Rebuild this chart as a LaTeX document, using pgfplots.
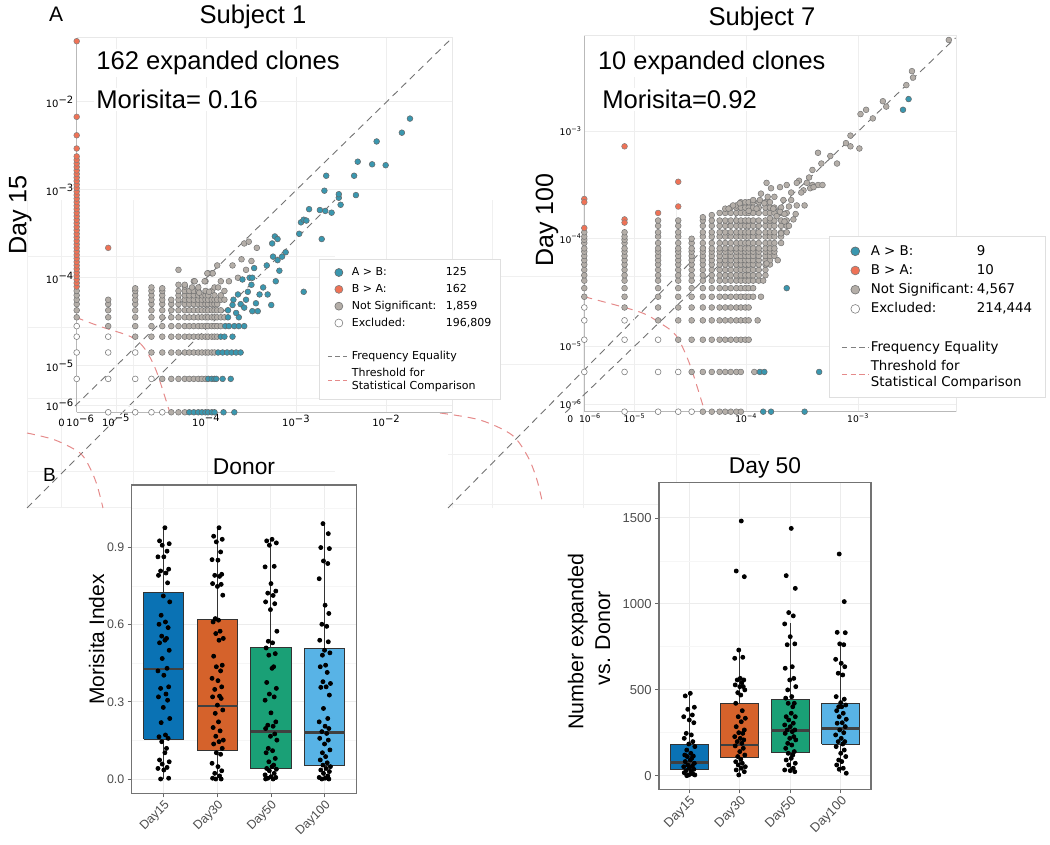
\documentclass[border=0pt]{standalone}
\usepackage{fontspec}
\setmainfont{Liberation Sans}
\newfontfamily\dejavu{DejaVu Sans}
\usepackage{pgfplots}
\pgfplotsset{compat=1.18}
\definecolor{tealc}{HTML}{3A97AF}
\definecolor{orc}{HTML}{EF7256}
\definecolor{grc}{HTML}{B4AEA8}
\definecolor{redl}{HTML}{E58A8A}
\definecolor{c15}{HTML}{0A72B4}
\definecolor{c30}{HTML}{D5622B}
\definecolor{c50}{HTML}{1AA076}
\definecolor{c100}{HTML}{58B3E6}
\newcommand{\E}[1]{10\textsuperscript{−#1}}
\pgfplotsset{
 grayp/.style={only marks, mark=*, mark size=1.45pt, mark options={fill=grc, draw=black!55, line width=0.25pt}, forget plot},
 whitep/.style={only marks, mark=*, mark size=1.45pt, mark options={fill=white, draw=black!50, line width=0.3pt}, forget plot},
 tealp/.style={only marks, mark=*, mark size=1.45pt, mark options={fill=tealc, draw=black!60, line width=0.25pt}, forget plot},
 orp/.style={only marks, mark=*, mark size=1.45pt, mark options={fill=orc, draw=black!50, line width=0.25pt}, forget plot},
 diagl/.style={gray!90!black, line width=0.45pt, dash pattern=on 3.5pt off 2.5pt, forget plot},
 redd/.style={redl, line width=0.5pt, dash pattern=on 4pt off 3pt, forget plot},
 bgl/.style={gray!12, line width=0.5pt, forget plot},
 jit/.style={only marks, mark=*, mark size=1pt, black, forget plot},
 boxs/.style={draw=black!80, line width=0.5pt, forget plot},
 meds/.style={draw=black!75, line width=1.2pt, forget plot},
 whs/.style={draw=black!80, line width=0.5pt, forget plot},
 pix/.style={at={(0pt,0pt)}, anchor=south west, scale only axis, width=525pt, height=422.5pt,
   xmin=0, xmax=1050, ymin=0, ymax=845, y dir=reverse, hide axis, clip=false},
}
\begin{document}
\begin{tikzpicture}
%================ background artefacts (pixel coordinates)
\begin{axis}[pix]
\addplot[bgl] coordinates {(27,257) (335,257)};
\addplot[bgl] coordinates {(27,328) (335,328)};
\addplot[bgl] coordinates {(27,399) (335,399)};
\addplot[bgl] coordinates {(27,472) (335,472)};
\addplot[bgl] coordinates {(27,508) (335,508)};
\addplot[bgl] coordinates {(27,200) (27,508)};
\addplot[bgl] coordinates {(61,200) (61,508)};
\addplot[bgl] coordinates {(133,200) (133,508)};
\addplot[bgl] coordinates {(207,200) (207,508)};
\addplot[diagl] coordinates {(27,508) (335,200)};
\addplot[redd, smooth] coordinates {(27,433) (55,440) (80,453) (90,468) (97,485) (103,508)};
\addplot[bgl] coordinates {(448,277) (760,277)};
\addplot[bgl] coordinates {(448,365) (760,365)};
\addplot[bgl] coordinates {(448,455) (760,455)};
\addplot[bgl] coordinates {(448,505) (760,505)};
\addplot[bgl] coordinates {(452,200) (452,508)};
\addplot[bgl] coordinates {(492,200) (492,508)};
\addplot[bgl] coordinates {(583,200) (583,508)};
\addplot[bgl] coordinates {(676,200) (676,508)};
\addplot[diagl] coordinates {(448,508) (752,200)};
\addplot[redd, smooth] coordinates {(440,413) (480,420) (512,435) (528,457) (537,480) (543,505)};
\end{axis}

%================ Subject 1
\begin{axis}[at={(38.35pt,216.35pt)}, anchor=south west, scale only axis, width=187.8pt, height=187.3pt,
 xmin=-5.44, xmax=-1.27, ymin=-5.53, ymax=-1.27, clip=false,
 axis x line*=bottom, axis y line*=left, axis line style={draw=gray!55, line width=0.5pt, -},
 xtick={-5.44,-5,-4,-3,-2}, xticklabels={0\,\E{6},\E{5},\E{4},\E{3},\E{2}},
 ytick={-5.45,-5,-4,-3,-2}, yticklabels={\E{6},\E{5},\E{4},\E{3},\E{2}},
 major tick length=0pt, grid=major, grid style={gray!13, line width=0.4pt},
 tick label style={font=\fontsize{5}{5.5}\selectfont\dejavu, inner sep=1pt},
 legend style={at={(0.645,0.409)}, anchor=north west, draw=gray!25, line width=0.5pt, fill=white,
   font=\fontsize{5.5}{6.6}\selectfont\dejavu, row sep=0.7pt, inner xsep=4pt, inner ysep=2.6pt,
   cells={anchor=west, align=left}, nodes={inner sep=0.8pt}},
 legend cell align=left]
\addlegendimage{legend image code/.code={\path[draw=none,fill=none] (0pt,-1pt) rectangle (11pt,1pt); \draw[fill=tealc,draw=black!60,line width=0.3pt] (5.5pt,0pt) circle (2pt);}}
\addlegendentry{\strut\makebox[47pt][l]{A > B:}125}
\addlegendimage{legend image code/.code={\path[draw=none,fill=none] (0pt,-1pt) rectangle (11pt,1pt); \draw[fill=orc,draw=black!50,line width=0.3pt] (5.5pt,0pt) circle (2pt);}}
\addlegendentry{\strut\makebox[47pt][l]{B > A:}162}
\addlegendimage{legend image code/.code={\path[draw=none,fill=none] (0pt,-1pt) rectangle (11pt,1pt); \draw[fill=grc,draw=black!55,line width=0.3pt] (5.5pt,0pt) circle (2pt);}}
\addlegendentry{\strut\makebox[47pt][l]{Not Significant:}1,859}
\addlegendimage{legend image code/.code={\path[draw=none,fill=none] (0pt,-1pt) rectangle (11pt,1pt); \draw[fill=white,draw=black!50,line width=0.3pt] (5.5pt,0pt) circle (2pt);}}
\addlegendentry{\strut\makebox[47pt][l]{Excluded:}196,809}
\addlegendimage{empty legend}
\addlegendentry{\strut}
\addlegendimage{legend image code/.code={\draw[gray, line width=0.4pt, dash pattern=on 2.2pt off 1.6pt] (0pt,0pt) -- (11pt,0pt);}}
\addlegendentry{\strut Frequency Equality}
\addlegendimage{legend image code/.code={\draw[redl, line width=0.4pt, dash pattern=on 2.2pt off 1.6pt] (0pt,0pt) -- (11pt,0pt);}}
\addlegendentry{\strut Threshold for\\\strut Statistical Comparison}
\addplot[gray!18, line width=0.5pt, forget plot] coordinates {(-5.44,-1.27) (-1.27,-1.27) (-1.27,-5.53)};
% excluded
\addplot[whitep] coordinates {(-5.44,-4.55) (-5.44,-4.67) (-5.44,-4.85) (-5.44,-5.15)
 (-5.09,-4.67) (-5.09,-4.85) (-5.09,-5.15) (-5.09,-5.53)
 (-4.79,-4.85) (-4.79,-5.15) (-4.79,-5.53) (-4.61,-5.15) (-4.61,-5.53) (-4.49,-5.53)};
% not significant
\addplot[grayp] coordinates {
 (-5.44,-4.45) (-5.44,-4.37) (-5.44,-4.30) (-5.44,-4.25) (-5.44,-4.20) (-5.44,-4.15)
 (-5.09,-4.55) (-5.09,-4.45) (-5.09,-4.37) (-5.09,-4.30) (-5.09,-4.25)
 (-4.79,-4.67) (-4.79,-4.55) (-4.79,-4.45) (-4.79,-4.37) (-4.79,-4.30) (-4.79,-4.25) (-4.79,-4.20) (-4.79,-4.15) (-4.79,-4.12)
 (-4.61,-4.85) (-4.61,-4.67) (-4.61,-4.55) (-4.61,-4.45) (-4.61,-4.37) (-4.61,-4.30) (-4.61,-4.25) (-4.61,-4.20) (-4.61,-4.15) (-4.61,-4.11)
 (-4.49,-5.15) (-4.49,-4.85) (-4.49,-4.67) (-4.49,-4.55) (-4.49,-4.45) (-4.49,-4.37) (-4.49,-4.30) (-4.49,-4.25) (-4.49,-4.20) (-4.49,-4.15) (-4.49,-4.12)
 (-4.39,-5.53) (-4.39,-5.15) (-4.39,-4.85) (-4.39,-4.67) (-4.39,-4.55) (-4.39,-4.45) (-4.39,-4.37) (-4.39,-4.30) (-4.39,-4.25)
 (-4.31,-5.53) (-4.31,-5.15) (-4.31,-4.85) (-4.31,-4.67) (-4.31,-4.55) (-4.31,-4.45) (-4.31,-4.37) (-4.31,-4.30) (-4.31,-4.25) (-4.31,-4.20) (-4.31,-4.15) (-4.31,-4.08) (-4.31,-3.91)
 (-4.24,-5.53) (-4.24,-5.15) (-4.24,-4.85) (-4.24,-4.67) (-4.24,-4.55) (-4.24,-4.45) (-4.24,-4.37) (-4.24,-4.30) (-4.24,-4.25) (-4.24,-4.20) (-4.24,-4.15) (-4.24,-4.10)
 (-4.19,-5.15) (-4.19,-4.85) (-4.19,-4.67) (-4.19,-4.55) (-4.19,-4.45) (-4.19,-4.37) (-4.19,-4.30) (-4.19,-4.25) (-4.19,-4.20) (-4.19,-4.15)
 (-4.14,-5.15) (-4.14,-4.85) (-4.14,-4.67) (-4.14,-4.55) (-4.14,-4.45) (-4.14,-4.37) (-4.14,-4.30) (-4.14,-4.25) (-4.14,-4.20) (-4.14,-4.15) (-4.14,-4.04)
 (-4.09,-5.15) (-4.09,-4.85) (-4.09,-4.67) (-4.09,-4.55) (-4.09,-4.45) (-4.09,-4.37) (-4.09,-4.30) (-4.09,-4.25) (-4.09,-4.20) (-4.09,-4.15) (-4.09,-4.11)
 (-4.05,-5.15) (-4.05,-4.85) (-4.05,-4.67) (-4.05,-4.55) (-4.05,-4.45) (-4.05,-4.37) (-4.05,-4.30) (-4.05,-4.25) (-4.05,-4.20)
 (-4.01,-5.15) (-4.01,-4.85) (-4.01,-4.67) (-4.01,-4.55) (-4.01,-4.45) (-4.01,-4.37) (-4.01,-4.30) (-4.01,-4.25) (-4.01,-4.20) (-4.01,-4.15) (-4.01,-4.04)
 (-3.98,-4.85) (-3.98,-4.67) (-3.98,-4.55) (-3.98,-4.45) (-3.98,-4.37) (-3.98,-4.30) (-3.98,-4.25) (-3.98,-4.20) (-3.98,-3.95)
 (-3.94,-4.85) (-3.94,-4.67) (-3.94,-4.55) (-3.94,-4.45) (-3.94,-4.37) (-3.94,-4.30) (-3.94,-4.25) (-3.94,-4.15) (-3.94,-3.95)
 (-3.91,-4.85) (-3.91,-4.67) (-3.91,-4.55) (-3.91,-4.45) (-3.91,-4.37) (-3.91,-4.30) (-3.91,-4.25) (-3.91,-4.20) (-3.91,-4.11)
 (-3.88,-4.67) (-3.88,-4.55) (-3.88,-4.45) (-3.88,-4.37) (-3.88,-4.30) (-3.88,-4.25) (-3.88,-3.86)
 (-3.84,-4.55) (-3.84,-4.45) (-3.84,-4.37) (-3.84,-4.25) (-3.84,-4.20) (-3.84,-4.04)
 (-3.80,-4.45) (-3.80,-4.25) (-3.80,-4.15)
 (-3.75,-4.04) (-3.71,-3.86) (-3.65,-4.00) (-3.61,-3.79) (-3.56,-3.91) (-3.50,-3.81) (-3.58,-3.61) (-3.53,-3.59) (-3.44,-3.66)
 (-3.87,-4.11) (-3.97,-4.16) (-3.93,-3.95) (-3.99,-3.95) (-4.02,-4.04) (-4.13,-4.04) (-4.24,-4.08) (-4.16,-4.11) (-4.08,-4.17)};
% A > B
\addplot[tealp] coordinates {
 (-4.19,-5.53) (-4.14,-5.53) (-4.09,-5.53) (-4.05,-5.53) (-4.01,-5.53) (-3.98,-5.53) (-3.94,-5.53) (-3.91,-5.53) (-3.81,-5.53) (-3.69,-5.53)
 (-3.98,-5.15) (-3.94,-5.15) (-3.91,-5.15) (-3.89,-5.15) (-3.82,-5.15) (-3.73,-5.15)
 (-3.87,-4.85) (-3.82,-4.85) (-3.77,-4.85) (-3.72,-4.85) (-3.67,-4.85) (-3.62,-4.85)
 (-3.84,-4.67) (-3.80,-4.67) (-3.71,-4.67)
 (-3.79,-4.55) (-3.75,-4.55) (-3.69,-4.55) (-3.64,-4.55) (-3.58,-4.55)
 (-3.76,-4.45) (-3.64,-4.45)
 (-3.76,-4.37) (-3.70,-4.25) (-3.62,-4.30) (-3.67,-4.40) (-3.58,-4.34)
 (-3.71,-4.31) (-3.65,-4.19) (-3.56,-4.25) (-3.54,-4.16) (-3.45,-4.29) (-3.49,-4.38) (-3.43,-4.38) (-3.50,-4.08)
 (-3.41,-4.19) (-3.32,-4.19) (-3.28,-4.31) (-3.37,-4.11) (-3.47,-3.89) (-3.52,-4.00) (-3.49,-4.00) (-3.60,-4.02)
 (-3.33,-3.86) (-3.27,-3.61) (-3.24,-3.53) (-3.21,-3.56) (-3.26,-3.76) (-3.21,-3.80) (-3.16,-3.76) (-3.12,-3.71)
 (-3.19,-3.92) (-3.23,-4.04) (-2.97,-3.50) (-2.95,-3.37) (-2.92,-3.34) (-2.89,-3.35) (-2.86,-3.22) (-2.74,-3.23)
 (-2.68,-3.24) (-2.61,-3.26) (-2.72,-3.56) (-2.51,-3.17) (-2.53,-3.09) (-2.53,-3.05) (-2.69,-3.01) (-2.67,-2.84)
 (-2.36,-2.84) (-2.32,-2.68) (-2.34,-3.06) (-2.16,-2.71) (-2.01,-2.72) (-2.11,-2.45) (-1.83,-2.35) (-1.74,-2.19) (-2.92,-4.16)};
% B > A
\addplot[orp] coordinates {
 (-5.44,-4.10) (-5.44,-4.06) (-5.44,-4.02) (-5.44,-3.98) (-5.44,-3.94) (-5.44,-3.90) (-5.44,-3.86) (-5.44,-3.82)
 (-5.44,-3.78) (-5.44,-3.74) (-5.44,-3.70) (-5.44,-3.66) (-5.44,-3.62) (-5.44,-3.58) (-5.44,-3.54) (-5.44,-3.50)
 (-5.44,-3.46) (-5.44,-3.42) (-5.44,-3.38) (-5.44,-3.34) (-5.44,-3.30) (-5.44,-3.26) (-5.44,-3.22) (-5.44,-3.18)
 (-5.44,-3.14) (-5.44,-3.10) (-5.44,-3.06) (-5.44,-3.02) (-5.44,-2.98) (-5.44,-2.94) (-5.44,-2.90) (-5.44,-2.86)
 (-5.44,-2.82) (-5.44,-2.78) (-5.44,-2.74) (-5.44,-2.70) (-5.44,-2.66) (-5.44,-2.62)
 (-5.44,-2.53) (-5.44,-2.38) (-5.44,-2.17) (-5.44,-1.31) (-5.09,-3.66)};
\addplot[diagl] coordinates {(-5.46,-5.46) (-1.27,-1.27)};
\addplot[redd, smooth] coordinates {(-5.45,-4.45) (-5.19,-4.55) (-4.84,-4.67) (-4.69,-4.80) (-4.56,-5.05) (-4.41,-5.52)};
\end{axis}

%================ Subject 7
\begin{axis}[at={(292.15pt,216.65pt)}, anchor=south west, scale only axis, width=185.85pt, height=188pt,
 xmin=-5.45, xmax=-2.126, ymin=-5.61, ymax=-2.11, clip=false,
 axis x line*=bottom, axis y line*=left, axis line style={draw=gray!55, line width=0.5pt, -},
 xtick={-5.45,-5,-4,-3}, xticklabels={0\hspace{3pt}\E{6},\E{5},\E{4},\E{3}},
 ytick={-5.54,-5,-4,-3}, yticklabels={\E{6},\E{5},\E{4},\E{3}},
 major tick length=0pt, grid=major, grid style={gray!13, line width=0.4pt},
 tick label style={font=\fontsize{4.6}{5}\selectfont\dejavu, inner sep=1pt},
 legend style={at={(0.658,0.467)}, anchor=north west, draw=gray!25, line width=0.5pt, fill=white,
   font=\fontsize{6.7}{8}\selectfont\dejavu, row sep=0.9pt, inner xsep=6pt, inner ysep=3pt,
   cells={anchor=west, align=left}, nodes={inner sep=0.8pt}},
 legend cell align=left]
\addlegendimage{legend image code/.code={\path[draw=none,fill=none] (0pt,-1pt) rectangle (13.5pt,1pt); \draw[fill=tealc,draw=black!60,line width=0.3pt] (6.75pt,0pt) circle (2.2pt);}}
\addlegendentry{\strut\makebox[53pt][l]{A > B:}9}
\addlegendimage{legend image code/.code={\path[draw=none,fill=none] (0pt,-1pt) rectangle (13.5pt,1pt); \draw[fill=orc,draw=black!50,line width=0.3pt] (6.75pt,0pt) circle (2.2pt);}}
\addlegendentry{\strut\makebox[53pt][l]{B > A:}10}
\addlegendimage{legend image code/.code={\path[draw=none,fill=none] (0pt,-1pt) rectangle (13.5pt,1pt); \draw[fill=grc,draw=black!55,line width=0.3pt] (6.75pt,0pt) circle (2.2pt);}}
\addlegendentry{\strut\makebox[53pt][l]{Not Significant:}4,567}
\addlegendimage{legend image code/.code={\path[draw=none,fill=none] (0pt,-1pt) rectangle (13.5pt,1pt); \draw[fill=white,draw=black!50,line width=0.3pt] (6.75pt,0pt) circle (2.2pt);}}
\addlegendentry{\strut\makebox[53pt][l]{Excluded:}214,444}
\addlegendimage{empty legend}
\addlegendentry{\strut}
\addlegendimage{legend image code/.code={\draw[gray, line width=0.4pt, dash pattern=on 2.6pt off 1.8pt] (0pt,0pt) -- (13.5pt,0pt);}}
\addlegendentry{\strut Frequency Equality}
\addlegendimage{legend image code/.code={\draw[redl, line width=0.4pt, dash pattern=on 2.6pt off 1.8pt] (0pt,0pt) -- (13.5pt,0pt);}}
\addlegendentry{\strut Threshold for\\\strut Statistical Comparison}
\addplot[gray!18, line width=0.5pt, forget plot] coordinates {(-5.45,-2.11) (-2.126,-2.11) (-2.126,-5.61)};
\addplot[whitep] coordinates {(-5.45,-4.64) (-5.45,-4.76) (-5.45,-4.94) (-5.45,-5.24)
 (-5.09,-4.76) (-5.09,-4.94) (-5.09,-5.24) (-5.09,-5.61)
 (-4.79,-4.94) (-4.79,-5.24) (-4.79,-5.61) (-4.61,-5.24) (-4.61,-5.61) (-4.49,-5.61)};
\addplot[grayp] coordinates {
 (-5.45,-4.54) (-5.45,-4.46) (-5.45,-4.39) (-5.45,-4.34) (-5.45,-4.29) (-5.45,-4.24) (-5.45,-4.20) (-5.45,-4.16) (-5.45,-4.12) (-5.45,-4.09) (-5.45,-4.04) (-5.45,-4.01) (-5.45,-3.98) (-5.45,-3.94)
 (-5.09,-4.64) (-5.09,-4.54) (-5.09,-4.46) (-5.09,-4.39) (-5.09,-4.34) (-5.09,-4.29) (-5.09,-4.24) (-5.09,-4.20) (-5.09,-4.16) (-5.09,-4.12) (-5.09,-4.09) (-5.09,-4.04) (-5.09,-4.01) (-5.09,-3.98) (-5.09,-3.94)
 (-4.79,-4.76) (-4.79,-4.64) (-4.79,-4.54) (-4.79,-4.46) (-4.79,-4.39) (-4.79,-4.34) (-4.79,-4.29) (-4.79,-4.24) (-4.79,-4.20) (-4.79,-4.16) (-4.79,-4.12) (-4.79,-4.09) (-4.79,-4.04) (-4.79,-3.98) (-4.79,-3.94) (-4.79,-3.88) (-4.79,-3.83)
 (-4.61,-4.94) (-4.61,-4.76) (-4.61,-4.64) (-4.61,-4.54) (-4.61,-4.46) (-4.61,-4.39) (-4.61,-4.34) (-4.61,-4.29) (-4.61,-4.24) (-4.61,-4.20) (-4.61,-4.16) (-4.61,-4.12) (-4.61,-4.09) (-4.61,-4.04) (-4.61,-3.98) (-4.61,-3.94) (-4.61,-3.88) (-4.61,-3.83)
 (-4.49,-5.24) (-4.49,-4.94) (-4.49,-4.76) (-4.49,-4.64) (-4.49,-4.54) (-4.49,-4.46) (-4.49,-4.39) (-4.49,-4.34) (-4.49,-4.29) (-4.49,-4.24) (-4.49,-4.20) (-4.49,-4.16) (-4.49,-4.12) (-4.49,-4.09) (-4.49,-4.04) (-4.49,-4.00)
 (-4.39,-5.61) (-4.39,-5.24) (-4.39,-4.94) (-4.39,-4.76) (-4.39,-4.64) (-4.39,-4.54) (-4.39,-4.46) (-4.39,-4.39) (-4.39,-4.34) (-4.39,-4.29) (-4.39,-4.24) (-4.39,-4.20) (-4.39,-4.16) (-4.39,-4.12) (-4.39,-4.09) (-4.39,-4.04) (-4.39,-3.98) (-4.39,-3.94) (-4.39,-3.88) (-4.39,-3.83) (-4.39,-3.80)
 (-4.31,-5.61) (-4.31,-5.24) (-4.31,-4.94) (-4.31,-4.76) (-4.31,-4.64) (-4.31,-4.54) (-4.31,-4.46) (-4.31,-4.39) (-4.31,-4.34) (-4.31,-4.29) (-4.31,-4.24) (-4.31,-4.20) (-4.31,-4.16) (-4.31,-4.12) (-4.31,-4.09) (-4.31,-4.04) (-4.31,-3.98) (-4.31,-3.94) (-4.31,-3.88) (-4.31,-3.83) (-4.31,-3.78)
 (-4.24,-5.61) (-4.24,-5.24) (-4.24,-4.94) (-4.24,-4.76) (-4.24,-4.64) (-4.24,-4.54) (-4.24,-4.46) (-4.24,-4.39) (-4.24,-4.34) (-4.24,-4.29) (-4.24,-4.24) (-4.24,-4.20) (-4.24,-4.16) (-4.24,-4.12) (-4.24,-4.09) (-4.24,-4.04) (-4.24,-3.98) (-4.24,-3.94) (-4.24,-3.88) (-4.24,-3.83) (-4.24,-3.76)
 (-4.19,-5.61) (-4.19,-5.24) (-4.19,-4.94) (-4.19,-4.76) (-4.19,-4.64) (-4.19,-4.54) (-4.19,-4.46) (-4.19,-4.39) (-4.19,-4.34) (-4.19,-4.29) (-4.19,-4.24) (-4.19,-4.20) (-4.19,-4.16) (-4.19,-4.12) (-4.19,-4.09) (-4.19,-4.04) (-4.19,-3.98) (-4.19,-3.94) (-4.19,-3.88) (-4.19,-3.83) (-4.19,-3.76) (-4.19,-3.72)
 (-4.14,-5.61) (-4.14,-5.24) (-4.14,-4.94) (-4.14,-4.76) (-4.14,-4.64) (-4.14,-4.54) (-4.14,-4.46) (-4.14,-4.39) (-4.14,-4.34) (-4.14,-4.29) (-4.14,-4.24) (-4.14,-4.20) (-4.14,-4.16) (-4.14,-4.12) (-4.14,-4.09) (-4.14,-4.04) (-4.14,-3.98) (-4.14,-3.94) (-4.14,-3.88) (-4.14,-3.83) (-4.14,-3.76) (-4.14,-3.71)
 (-4.09,-5.61) (-4.09,-5.24) (-4.09,-4.94) (-4.09,-4.76) (-4.09,-4.64) (-4.09,-4.54) (-4.09,-4.46) (-4.09,-4.39) (-4.09,-4.34) (-4.09,-4.29) (-4.09,-4.24) (-4.09,-4.20) (-4.09,-4.16) (-4.09,-4.12) (-4.09,-4.09) (-4.09,-4.04) (-4.09,-3.98) (-4.09,-3.94) (-4.09,-3.88) (-4.09,-3.83) (-4.09,-3.76) (-4.09,-3.71) (-4.09,-3.69)
 (-4.05,-5.61) (-4.05,-5.24) (-4.05,-4.94) (-4.05,-4.76) (-4.05,-4.64) (-4.05,-4.54) (-4.05,-4.46) (-4.05,-4.39) (-4.05,-4.34) (-4.05,-4.29) (-4.05,-4.24) (-4.05,-4.20) (-4.05,-4.16) (-4.05,-4.12) (-4.05,-4.09) (-4.05,-4.04) (-4.05,-3.98) (-4.05,-3.94) (-4.05,-3.88) (-4.05,-3.83) (-4.05,-3.76) (-4.05,-3.71) (-4.05,-3.66)
 (-4.01,-4.94) (-4.01,-4.76) (-4.01,-4.64) (-4.01,-4.54) (-4.01,-4.46) (-4.01,-4.39) (-4.01,-4.34) (-4.01,-4.29) (-4.01,-4.24) (-4.01,-4.20) (-4.01,-4.16) (-4.01,-4.12) (-4.01,-4.09) (-4.01,-4.04) (-4.01,-3.98) (-4.01,-3.94) (-4.01,-3.88) (-4.01,-3.83) (-4.01,-3.76) (-4.01,-3.71) (-4.01,-3.66)
 (-3.98,-4.94) (-3.98,-4.76) (-3.98,-4.64) (-3.98,-4.54) (-3.98,-4.46) (-3.98,-4.39) (-3.98,-4.34) (-3.98,-4.29) (-3.98,-4.24) (-3.98,-4.20) (-3.98,-4.16) (-3.98,-4.12) (-3.98,-4.09) (-3.98,-4.04) (-3.98,-3.98) (-3.98,-3.94) (-3.98,-3.88) (-3.98,-3.83) (-3.98,-3.76) (-3.98,-3.71) (-3.98,-3.66)
 (-3.94,-4.54) (-3.94,-4.46) (-3.94,-4.39) (-3.94,-4.34) (-3.94,-4.29) (-3.94,-4.24) (-3.94,-4.20) (-3.94,-4.16) (-3.94,-4.12) (-3.94,-4.09) (-3.94,-4.04) (-3.94,-3.98) (-3.94,-3.94) (-3.94,-3.88) (-3.94,-3.83) (-3.94,-3.76) (-3.94,-3.71) (-3.94,-3.66)
 (-3.89,-4.39) (-3.89,-4.34) (-3.89,-4.29) (-3.89,-4.24) (-3.89,-4.20) (-3.89,-4.16) (-3.89,-4.12) (-3.89,-4.09) (-3.89,-4.04) (-3.89,-3.98) (-3.89,-3.94) (-3.89,-3.88) (-3.89,-3.83) (-3.89,-3.76) (-3.89,-3.71) (-3.89,-3.66)
 (-3.83,-4.34) (-3.83,-4.29) (-3.83,-4.24) (-3.83,-4.20) (-3.83,-4.16) (-3.83,-4.12) (-3.83,-4.09) (-3.83,-4.04) (-3.83,-3.98) (-3.83,-3.94) (-3.83,-3.88) (-3.83,-3.83) (-3.83,-3.76) (-3.83,-3.71) (-3.83,-3.66)
 (-3.79,-4.24) (-3.79,-4.20) (-3.79,-4.16) (-3.79,-4.12) (-3.79,-4.09) (-3.79,-4.04) (-3.79,-3.98) (-3.79,-3.94) (-3.79,-3.88) (-3.79,-3.83) (-3.79,-3.76) (-3.79,-3.71) (-3.79,-3.66)
 (-3.75,-4.16) (-3.75,-4.12) (-3.75,-4.09) (-3.75,-4.04) (-3.75,-3.98) (-3.75,-3.94) (-3.75,-3.88) (-3.75,-3.83) (-3.75,-3.76) (-3.75,-3.71)
 (-3.69,-4.04) (-3.69,-3.98) (-3.69,-3.94) (-3.69,-3.88) (-3.69,-3.83) (-3.69,-3.76) (-3.69,-3.71)
 (-3.64,-3.94) (-3.64,-3.88) (-3.64,-3.83) (-3.64,-3.76)
 (-3.93,-5.24) (-3.90,-4.76) (-3.87,-4.54) (-3.82,-4.23) (-3.85,-4.39) (-3.72,-4.20) (-3.69,-3.95)
 (-2.19,-2.15) (-2.52,-2.44) (-2.51,-2.50) (-2.57,-2.57) (-2.78,-2.72) (-2.75,-2.77) (-2.98,-2.84) (-2.93,-2.80)
 (-2.87,-2.88) (-3.07,-3.04) (-3.11,-3.11) (-3.07,-3.14) (-2.99,-3.16) (-3.36,-3.20) (-3.33,-3.30) (-3.25,-3.23)
 (-3.19,-3.30) (-3.41,-3.36) (-3.44,-3.43) (-3.53,-3.46) (-3.55,-3.48) (-3.46,-3.48) (-3.41,-3.50) (-3.36,-3.50)
 (-3.32,-3.50) (-3.49,-3.55) (-3.43,-3.53) (-3.40,-3.52) (-3.51,-3.57) (-3.64,-3.50) (-3.70,-3.52) (-3.82,-3.48)
 (-3.78,-3.53) (-3.60,-3.57) (-3.48,-3.69) (-3.55,-3.69) (-3.56,-3.77) (-3.67,-3.64) (-3.75,-3.61) (-3.81,-3.61)
 (-3.87,-3.58) (-3.88,-3.64) (-3.84,-3.67) (-3.76,-3.72) (-3.70,-3.75) (-3.66,-3.77) (-3.73,-3.79) (-3.79,-3.81)
 (-3.94,-3.64) (-3.91,-3.72) (-3.98,-3.74) (-4.06,-3.67) (-4.12,-3.69) (-4.16,-3.72) (-3.60,-3.64) (-3.62,-3.70)
 (-3.58,-3.82) (-3.62,-3.88) (-3.66,-3.84)};
\addplot[tealp] coordinates {(-3.85,-5.61) (-3.78,-5.61) (-3.48,-5.61) (-3.88,-5.24) (-3.84,-5.24) (-3.35,-5.24) (-3.64,-4.46) (-2.55,-2.70) (-2.60,-2.80)};
\addplot[orp] coordinates {(-5.45,-3.63) (-5.45,-3.66) (-5.45,-3.90) (-5.09,-3.14) (-5.09,-3.82) (-5.09,-3.85) (-4.79,-3.76) (-4.61,-3.47) (-4.61,-3.70)};
\addplot[diagl] coordinates {(-5.62,-5.62) (-2.13,-2.13)};
\addplot[redd, smooth] coordinates {(-5.45,-4.54) (-4.96,-4.68) (-4.78,-4.78) (-4.63,-4.90) (-4.51,-5.16) (-4.39,-5.55)};
\end{axis}

%================ Donor boxplot
\begin{axis}[at={(65.85pt,25.85pt)}, anchor=south west, scale only axis, width=112.5pt, height=154.15pt,
 xmin=0.4, xmax=4.6, ymin=-0.0555, ymax=1.142,
 axis background/.style={fill=white}, axis line style={draw=black!55, line width=0.6pt},
 xtick={1,2,3,4}, xticklabels={Day15,Day30,Day50,Day100},
 ytick={0,0.3,0.6,0.9}, yticklabels={0.0,0.3,0.6,0.9}, minor ytick={0.15,0.45,0.75,1.05},
 grid=both, major grid style={gray!15, line width=0.5pt}, minor grid style={gray!7, line width=0.3pt},
 tick align=outside, major tick length=2pt, minor tick length=0pt, tick style={black!60, line width=0.4pt},
 tick pos=left,
 tick label style={font=\fontsize{6.2}{7}\selectfont, text=black!70},
 xticklabel style={rotate=45, anchor=north east, inner sep=0.5pt},
 yticklabel style={inner sep=1.5pt}]
\addplot[whs] coordinates {(1,0) (1,0.155)};
\addplot[whs] coordinates {(1,0.723) (1,0.976)};
\addplot[whs] coordinates {(2,0) (2,0.110)};
\addplot[whs] coordinates {(2,0.619) (2,0.976)};
\addplot[whs] coordinates {(3,0) (3,0.039)};
\addplot[whs] coordinates {(3,0.509) (3,0.931)};
\addplot[whs] coordinates {(4,0) (4,0.052)};
\addplot[whs] coordinates {(4,0.507) (4,0.992)};
\addplot[boxs, fill=c15] coordinates {(0.625,0.155) (1.375,0.155) (1.375,0.723) (0.625,0.723) (0.625,0.155)};
\addplot[boxs, fill=c30] coordinates {(1.625,0.110) (2.375,0.110) (2.375,0.619) (1.625,0.619) (1.625,0.110)};
\addplot[boxs, fill=c50] coordinates {(2.625,0.039) (3.375,0.039) (3.375,0.509) (2.625,0.509) (2.625,0.039)};
\addplot[boxs, fill=c100] coordinates {(3.625,0.052) (4.375,0.052) (4.375,0.507) (3.625,0.507) (3.625,0.052)};
\addplot[meds] coordinates {(0.625,0.427) (1.375,0.427)};
\addplot[meds] coordinates {(1.625,0.284) (2.375,0.284)};
\addplot[meds] coordinates {(2.625,0.184) (3.375,0.184)};
\addplot[meds] coordinates {(3.625,0.181) (4.375,0.181)};
\addplot[jit] coordinates {
 (1.02,0.976) (0.92,0.925) (1.10,0.914) (0.97,0.908) (1.06,0.885) (0.89,0.863) (1.00,0.863) (1.09,0.815) (0.94,0.808) (1.04,0.800)
 (0.90,0.791) (1.07,0.762) (0.99,0.711) (1.11,0.688) (0.95,0.636) (1.03,0.610) (0.91,0.601) (1.08,0.588) (0.96,0.555) (1.05,0.546)
 (1.02,0.539) (0.92,0.529) (1.10,0.500) (0.97,0.468) (1.06,0.430) (0.89,0.420) (1.00,0.403) (1.09,0.358) (0.94,0.352) (1.04,0.330)
 (0.90,0.319) (1.07,0.306) (0.99,0.278) (1.11,0.235) (0.95,0.219) (1.03,0.171) (0.91,0.164) (1.08,0.158) (0.96,0.145) (1.05,0.119)
 (1.02,0.102) (0.92,0.074) (1.10,0.067) (0.97,0.058) (1.06,0.045) (0.89,0.041) (1.00,0.035) (1.09,0.003) (0.94,0.000)
 (2.03,0.976) (1.93,0.943) (2.09,0.931) (1.98,0.921) (2.06,0.882) (1.90,0.852) (2.01,0.850) (2.08,0.795) (1.95,0.791) (2.04,0.787)
 (1.91,0.759) (2.07,0.756) (2.00,0.748) (2.10,0.714) (1.96,0.623) (2.02,0.617) (1.92,0.610) (2.05,0.574) (1.97,0.565) (2.11,0.546)
 (2.03,0.539) (1.93,0.477) (2.09,0.442) (1.98,0.436) (2.06,0.420) (1.90,0.391) (2.01,0.382) (2.08,0.358) (1.95,0.348) (2.04,0.322)
 (1.91,0.319) (2.07,0.313) (2.00,0.287) (2.10,0.268) (1.96,0.255) (2.02,0.222) (1.92,0.200) (2.05,0.187) (1.97,0.166) (2.11,0.151)
 (2.03,0.145) (1.93,0.136) (2.09,0.119) (1.98,0.102) (2.06,0.096) (1.90,0.061) (2.01,0.048) (2.08,0.032) (1.95,0.022) (2.04,0.012)
 (1.91,0.003) (2.07,0.0) (1.97,0.0)
 (3.02,0.931) (2.92,0.925) (3.10,0.917) (2.97,0.908) (3.06,0.826) (2.89,0.824) (3.00,0.759) (3.09,0.730) (2.94,0.722) (3.04,0.713)
 (2.90,0.688) (3.07,0.681) (2.99,0.658) (3.11,0.574) (2.95,0.535) (3.03,0.529) (2.91,0.509) (3.08,0.487) (2.96,0.481) (3.05,0.436)
 (3.02,0.430) (2.92,0.375) (3.10,0.352) (2.97,0.330) (3.06,0.319) (2.89,0.306) (3.00,0.257) (3.09,0.222) (2.94,0.209) (3.04,0.205)
 (2.90,0.196) (3.07,0.175) (2.99,0.166) (3.11,0.151) (2.95,0.119) (3.03,0.110) (2.91,0.102) (3.08,0.080) (2.96,0.067) (3.05,0.054)
 (3.02,0.048) (2.92,0.041) (3.10,0.038) (2.97,0.032) (3.06,0.022) (2.89,0.016) (3.00,0.009) (3.09,0.006) (2.94,0.003) (3.04,0.0) (2.90,0.0)
 (3.97,0.992) (4.07,0.953) (3.93,0.899) (4.09,0.895) (3.98,0.847) (4.06,0.837) (3.90,0.778) (4.01,0.675) (4.08,0.643) (3.95,0.601)
 (4.04,0.593) (3.91,0.539) (4.07,0.533) (4.00,0.500) (4.10,0.490) (3.96,0.481) (4.02,0.442) (3.92,0.436) (4.05,0.414) (3.97,0.378)
 (4.11,0.371) (4.03,0.358) (3.93,0.356) (4.09,0.326) (3.98,0.274) (4.06,0.235) (3.90,0.222) (4.01,0.205) (4.08,0.196) (3.95,0.184)
 (4.04,0.177) (3.91,0.158) (4.07,0.151) (4.00,0.136) (4.10,0.113) (3.96,0.102) (4.02,0.087) (3.92,0.074) (4.05,0.063) (3.97,0.054)
 (4.11,0.048) (4.03,0.041) (3.93,0.035) (4.09,0.029) (3.98,0.022) (4.06,0.012) (3.90,0.006) (4.01,0.003) (4.08,0.0) (3.95,0.0)};
\end{axis}

%================ Day 50 boxplot
\begin{axis}[at={(329.5pt,27.85pt)}, anchor=south west, scale only axis, width=106pt, height=153.3pt,
 xmin=0.4, xmax=4.6, ymin=-79.5, ymax=1705,
 axis background/.style={fill=white}, axis line style={draw=black!55, line width=0.6pt},
 xtick={1,2,3,4}, xticklabels={Day15,Day30,Day50,Day100},
 ytick={0,500,1000,1500}, yticklabels={0,500,1000,1500}, minor ytick={250,750,1250},
 grid=both, major grid style={gray!15, line width=0.5pt}, minor grid style={gray!7, line width=0.3pt},
 tick align=outside, major tick length=2pt, minor tick length=0pt, tick style={black!60, line width=0.4pt},
 tick pos=left,
 tick label style={font=\fontsize{6.5}{7.5}\selectfont, text=black!70},
 xticklabel style={rotate=45, anchor=north east, inner sep=0.5pt},
 yticklabel style={inner sep=1.5pt}]
\addplot[whs] coordinates {(1,0) (1,33)};
\addplot[whs] coordinates {(1,182) (1,479)};
\addplot[whs] coordinates {(2,4) (2,105)};
\addplot[whs] coordinates {(2,421) (2,731)};
\addplot[whs] coordinates {(3,23) (3,134)};
\addplot[whs] coordinates {(3,446) (3,887)};
\addplot[whs] coordinates {(4,14) (4,182)};
\addplot[whs] coordinates {(4,421) (4,760)};
\addplot[boxs, fill=c15] coordinates {(0.625,33) (1.375,33) (1.375,182) (0.625,182) (0.625,33)};
\addplot[boxs, fill=c30] coordinates {(1.625,105) (2.375,105) (2.375,421) (1.625,421) (1.625,105)};
\addplot[boxs, fill=c50] coordinates {(2.625,134) (3.375,134) (3.375,446) (2.625,446) (2.625,134)};
\addplot[boxs, fill=c100] coordinates {(3.625,182) (4.375,182) (4.375,421) (3.625,421) (3.625,182)};
\addplot[meds] coordinates {(0.625,76) (1.375,76)};
\addplot[meds] coordinates {(1.625,178) (2.375,178)};
\addplot[meds] coordinates {(2.625,262) (3.375,262)};
\addplot[meds] coordinates {(3.625,275) (4.375,275)};
\addplot[jit] coordinates {
 (1.02,479) (0.92,464) (1.10,398) (0.97,386) (1.06,353) (0.89,343) (1.00,324) (1.09,308) (0.94,246) (1.04,237)
 (0.90,217) (1.07,198) (0.99,184) (1.11,169) (0.95,149) (1.03,130) (0.91,120) (1.08,114) (0.96,111) (1.05,101)
 (1.02,91) (0.92,82) (1.10,72) (0.97,62) (1.06,56) (0.89,52) (1.00,43) (1.09,37) (0.94,29) (1.04,23)
 (0.90,17) (1.07,10) (0.99,4) (1.11,4) (0.95,0)
 (2.03,1482) (1.93,1191) (2.09,1158) (1.98,731) (2.06,689) (1.90,683) (2.01,566) (2.08,557) (1.95,557) (2.04,541)
 (1.91,528) (2.07,518) (2.00,518) (2.10,499) (1.96,483) (2.02,469) (1.92,421) (2.05,378) (1.97,343) (2.11,334)
 (2.03,314) (1.93,285) (2.09,266) (1.98,250) (2.06,246) (1.90,227) (2.01,217) (2.08,208) (1.95,198) (2.04,188)
 (1.91,173) (2.07,159) (2.00,140) (2.10,120) (1.96,111) (2.02,95) (1.92,81) (2.05,72) (1.97,62) (2.11,52)
 (2.03,43) (1.93,33) (2.09,23) (1.98,4)
 (3.02,1439) (2.92,1164) (3.10,1090) (2.97,949) (3.06,930) (2.89,883) (3.00,809) (3.09,767) (2.94,762) (3.04,634)
 (2.90,625) (3.07,566) (2.99,557) (3.11,518) (2.95,499) (3.03,460) (2.91,451) (3.08,421) (2.96,421) (3.05,401)
 (3.02,363) (2.92,343) (3.10,343) (2.97,324) (3.06,305) (2.89,295) (3.00,285) (3.09,266) (2.94,266) (3.04,256)
 (2.90,246) (3.07,227) (2.99,217) (3.11,208) (2.95,188) (3.03,178) (2.91,159) (3.08,140) (2.96,130) (3.05,120)
 (3.02,101) (2.92,91) (3.10,72) (2.97,62) (3.06,43) (2.89,33) (3.00,29) (3.09,23)
 (3.97,1290) (4.07,1013) (3.93,834) (4.09,832) (3.98,767) (4.06,762) (3.90,677) (4.01,654) (4.08,634) (3.95,596)
 (4.04,586) (3.91,460) (4.07,445) (4.00,425) (4.10,411) (3.96,401) (4.02,401) (3.92,378) (4.05,363) (3.97,343)
 (4.11,328) (4.03,308) (3.93,305) (4.09,285) (3.98,266) (4.06,250) (3.90,237) (4.01,217) (4.08,198) (3.95,198)
 (4.04,184) (3.91,169) (4.07,149) (4.00,130) (4.10,111) (3.96,91) (4.02,82) (3.92,62) (4.05,43) (3.97,37) (4.11,14)};
\end{axis}

%================ texts (pixel coordinates, drawn last)
\begin{axis}[pix]
\node[anchor=base west, font=\fontsize{10.5}{12}\selectfont] at (axis cs:42,21.7) {A};
\node[anchor=base west, font=\fontsize{9.5}{11}\selectfont] at (axis cs:36,482) {B};
\node[anchor=base, font=\fontsize{12.8}{15}\selectfont] at (axis cs:253,24) {Subject 1};
\node[anchor=base, font=\fontsize{12.8}{15}\selectfont] at (axis cs:762,26) {Subject 7};
\node[anchor=base west, fill=white, inner sep=1pt, font=\fontsize{12.8}{15}\selectfont] at (axis cs:94,70) {162 expanded clones};
\node[anchor=base west, fill=white, inner sep=1pt, font=\fontsize{12.8}{15}\selectfont] at (axis cs:94,108.3) {Morisita= 0.16};
\node[anchor=base west, fill=white, inner sep=1pt, font=\fontsize{12.7}{15}\selectfont] at (axis cs:595.7,70) {10 expanded clones};
\node[anchor=base west, fill=white, inner sep=1pt, font=\fontsize{12.8}{15}\selectfont] at (axis cs:600,108.3) {Morisita=0.92};
\node[anchor=base, rotate=90, font=\fontsize{12.6}{15}\selectfont] at (axis cs:26.5,215) {Day 15};
\node[anchor=base, rotate=90, font=\fontsize{12.5}{15}\selectfont] at (axis cs:553,220) {Day 100};
\node[anchor=base, font=\fontsize{11.4}{13}\selectfont] at (axis cs:244,475) {Donor};
\node[anchor=base, font=\fontsize{11.4}{13}\selectfont] at (axis cs:765,474) {Day 50};
\node[anchor=base, rotate=90, font=\fontsize{10.5}{12}\selectfont] at (axis cs:104,639.5) {Morisita Index};
\node[anchor=base, rotate=90, font=\fontsize{10.7}{12}\selectfont] at (axis cs:583.3,641.5) {Number expanded};
\node[anchor=base, rotate=90, font=\fontsize{10.7}{12}\selectfont] at (axis cs:610,638.5) {vs. Donor};
\end{axis}
\pgfresetboundingbox
\path (0pt,0pt) rectangle (525pt,422.5pt);
\end{tikzpicture}
\end{document}
